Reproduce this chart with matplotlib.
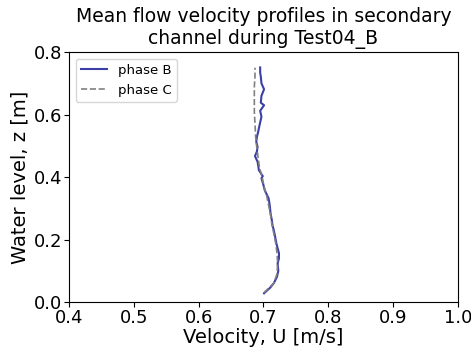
import matplotlib
matplotlib.use("Agg")
import matplotlib.pyplot as plt

# phase B velocity profile
z_b = [0.028, 0.045, 0.060, 0.081, 0.100, 0.124, 0.140, 0.156, 0.172, 0.188, 0.210,
       0.230, 0.246, 0.262, 0.284, 0.305, 0.320, 0.332, 0.345, 0.358, 0.375, 0.396,
       0.403, 0.422, 0.436, 0.449, 0.467, 0.482, 0.497, 0.513, 0.529, 0.545, 0.556,
       0.575, 0.593, 0.612, 0.630, 0.638, 0.660, 0.681, 0.700, 0.721, 0.735, 0.751]
u_b = [0.701, 0.710, 0.716, 0.721, 0.723, 0.722, 0.724, 0.724, 0.722, 0.720, 0.718,
       0.716, 0.714, 0.713, 0.711, 0.710, 0.709, 0.708, 0.705, 0.702, 0.700, 0.697,
       0.699, 0.693, 0.692, 0.691, 0.687, 0.690, 0.691, 0.689, 0.690, 0.692, 0.693,
       0.695, 0.697, 0.695, 0.701, 0.696, 0.697, 0.701, 0.697, 0.696, 0.695, 0.695]

# phase C velocity profile
z_c = [0.030, 0.060, 0.090, 0.124, 0.156, 0.188, 0.220, 0.250, 0.280, 0.310, 0.340,
       0.370, 0.400, 0.430, 0.460, 0.490, 0.530, 0.570, 0.610, 0.650, 0.690, 0.720, 0.750]
u_c = [0.701, 0.716, 0.721, 0.722, 0.721, 0.719, 0.716, 0.713, 0.711, 0.708, 0.705,
       0.701, 0.698, 0.694, 0.692, 0.690, 0.688, 0.687, 0.686, 0.686, 0.686, 0.687, 0.687]

fig = plt.figure(figsize=(4.71, 3.52), dpi=100)
ax = fig.add_axes([0.1465, 0.142, 0.8255, 0.71])

ax.plot(u_b, z_b, color='#3b3fa6', lw=1.5, label='phase B')
ax.plot(u_c, z_c, color='gray', lw=1.2, ls='--', label='phase C')

ax.set_xlim(0.4, 1.0)
ax.set_ylim(0.0, 0.8)
ax.set_xlabel('Velocity, U [m/s]', fontsize=14, labelpad=1)
ax.set_ylabel('Water level, z [m]', fontsize=14, labelpad=3)
ax.set_title('Mean flow velocity profiles in secondary\nchannel during Test04_B', fontsize=13.5)
ax.tick_params(labelsize=13, pad=1.5)
ax.legend(loc='upper left', fontsize=9.5)

fig.savefig('out.png', dpi=100)
